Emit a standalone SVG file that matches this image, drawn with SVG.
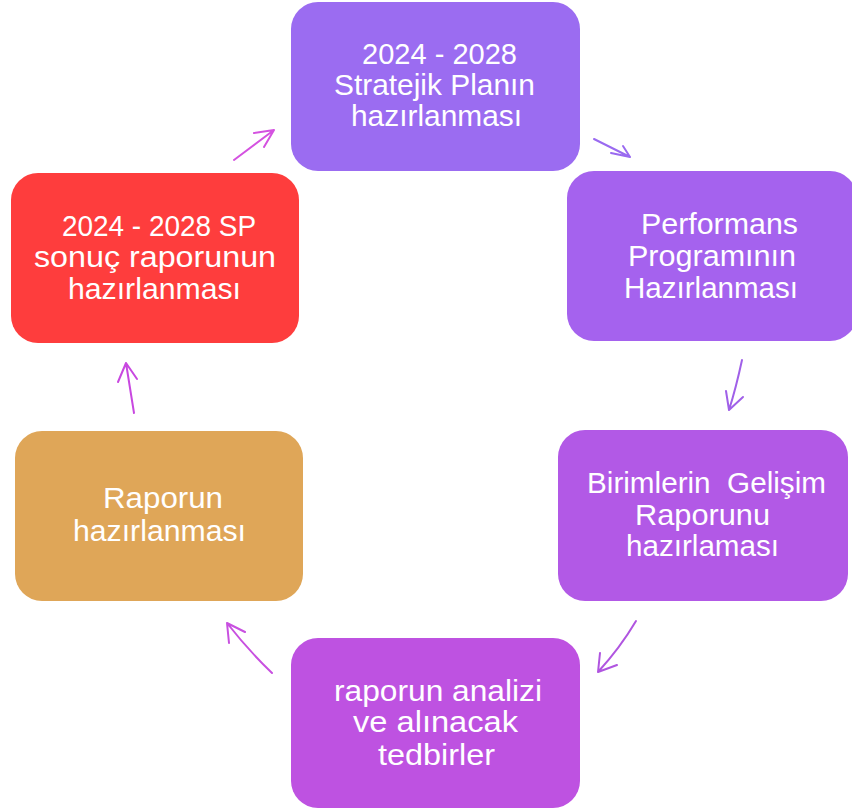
<svg xmlns="http://www.w3.org/2000/svg" width="852" height="811" viewBox="0 0 852 811">
<style>
.box{stroke:none}
.t{font-family:"Liberation Sans",Arial,sans-serif;font-size:29px;fill:#ffffff;text-anchor:middle;white-space:pre}
.c{fill:none;stroke-width:2;stroke-linecap:round;stroke-linejoin:round}
</style>
<rect width="852" height="811" fill="#ffffff"/>
<g id="node1">
<rect class="box" x="291" y="2" width="289" height="169" rx="27" fill="#9b6cf1"/>
<text class="t" x="439.5" y="64" textLength="155" lengthAdjust="spacingAndGlyphs">2024 - 2028</text>
<text class="t" x="434.5" y="95" textLength="201" lengthAdjust="spacingAndGlyphs">Stratejik Planın</text>
<text class="t" x="436.5" y="126" textLength="171" lengthAdjust="spacingAndGlyphs">hazırlanması</text>
</g>
<g id="node2">
<rect class="box" x="567" y="171" width="290" height="170" rx="27" fill="#a562ee"/>
<text class="t" x="719.5" y="234" textLength="157" lengthAdjust="spacingAndGlyphs">Performans</text>
<text class="t" x="712" y="266" textLength="168" lengthAdjust="spacingAndGlyphs">Programının</text>
<text class="t" x="711" y="298" textLength="174" lengthAdjust="spacingAndGlyphs">Hazırlanması</text>
</g>
<g id="node3">
<rect class="box" x="558" y="430" width="290" height="171" rx="27" fill="#b259e6"/>
<text class="t" x="706.5" y="493" textLength="239" lengthAdjust="spacingAndGlyphs">Birimlerin  Gelişim</text>
<text class="t" x="702.5" y="525" textLength="135" lengthAdjust="spacingAndGlyphs">Raporunu</text>
<text class="t" x="702.5" y="556" textLength="153" lengthAdjust="spacingAndGlyphs">hazırlaması</text>
</g>
<g id="node4">
<rect class="box" x="291" y="638" width="289" height="170" rx="27" fill="#be52e1"/>
<text class="t" x="438" y="701" textLength="208" lengthAdjust="spacingAndGlyphs">raporun analizi</text>
<text class="t" x="435.5" y="732" textLength="165" lengthAdjust="spacingAndGlyphs">ve alınacak</text>
<text class="t" x="436.5" y="765" textLength="117" lengthAdjust="spacingAndGlyphs">tedbirler</text>
</g>
<g id="node5">
<rect class="box" x="15" y="431" width="288" height="170" rx="27" fill="#dfa658"/>
<text class="t" x="163" y="508" textLength="120" lengthAdjust="spacingAndGlyphs">Raporun</text>
<text class="t" x="159.5" y="541" textLength="173" lengthAdjust="spacingAndGlyphs">hazırlanması</text>
</g>
<g id="node6">
<rect class="box" x="11" y="173" width="288" height="170" rx="27" fill="#fe3d3d"/>
<text class="t" x="159" y="236" textLength="194" lengthAdjust="spacingAndGlyphs">2024 - 2028 SP</text>
<text class="t" x="155" y="267" textLength="242" lengthAdjust="spacingAndGlyphs">sonuç raporunun</text>
<text class="t" x="154.5" y="299" textLength="173" lengthAdjust="spacingAndGlyphs">hazırlanması</text>
</g>
<g id="connectors">
<path class="c" stroke="#d452e0" d="M234 160 L274 130 M254 133 L274 130 L264 147"/>
<path class="c" stroke="#9a6af0" d="M594 139 L630 157 M611 153 L630 157 L623 146"/>
<path class="c" stroke="#a060e8" d="M742 360 Q736 388 729 410 M726 391 L729 410 L743 397"/>
<path class="c" stroke="#b055e0" d="M636 621 Q620 648 598 672 M600 653 L598 672 L617 665"/>
<path class="c" stroke="#c850e0" d="M272 673 Q248 650 227 623 M229 643 L227 623 L245 632"/>
<path class="c" stroke="#c848e0" d="M134 413 L126 363 M118 382 L126 363 L137 379"/>
</g>
</svg>
